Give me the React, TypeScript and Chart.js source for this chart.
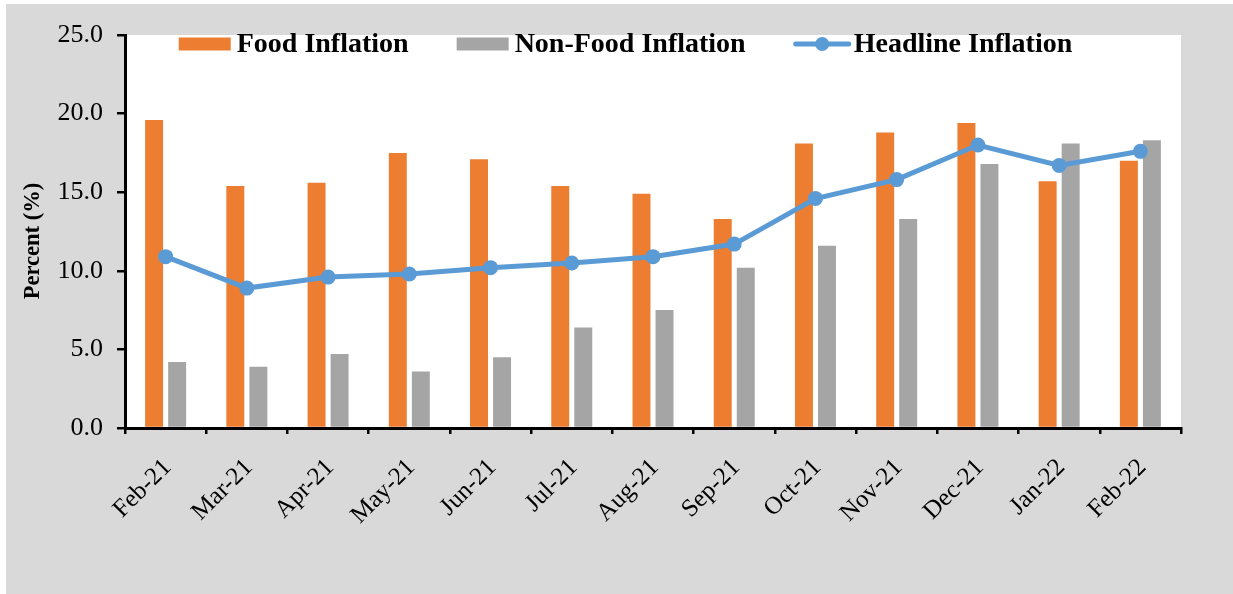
import React, { useEffect, useRef } from "react";
import { Chart, registerables } from "chart.js";

Chart.register(...registerables);

const categories = ["Feb-21", "Mar-21", "Apr-21", "May-21", "Jun-21", "Jul-21", "Aug-21", "Sep-21", "Oct-21", "Nov-21", "Dec-21", "Jan-22", "Feb-22"];
const foodInflation = [19.6, 15.4, 15.6, 17.5, 17.1, 15.4, 14.9, 13.3, 18.1, 18.8, 19.4, 15.7, 17.0];
const nonFoodInflation = [4.2, 3.9, 4.7, 3.6, 4.5, 6.4, 7.5, 10.2, 11.6, 13.3, 16.8, 18.1, 18.3];
const headlineInflation = [10.9, 8.9, 9.6, 9.8, 10.2, 10.5, 10.9, 11.7, 14.6, 15.8, 18.0, 16.7, 17.6];
const seriesNames = ["Food Inflation", "Non-Food Inflation", "Headline Inflation"];
const yAxisTitle = "Percent (%)";

const ORANGE = "#ED7D31";
const GRAY = "#A5A5A5";
const BLUE = "#5B9BD5";
const SERIF = "'Liberation Serif', 'Times New Roman', serif";

const bgPlugin = {
  id: "bgPlugin",
  beforeDraw(chart: any) {
    const { ctx, chartArea } = chart;
    ctx.save();
    ctx.fillStyle = "#D9D9D9";
    ctx.fillRect(0, 0, chart.width, chart.height);
    ctx.fillStyle = "#FFFFFF";
    ctx.fillRect(chartArea.left, chartArea.top, chartArea.right - chartArea.left, chartArea.bottom - chartArea.top);
    ctx.restore();
  },
  afterDraw(chart: any) {
    const { ctx } = chart;
    ctx.save();
    ctx.translate(27, 237);
    ctx.rotate(-Math.PI / 2);
    ctx.font = `bold 22.5px ${SERIF}`;
    ctx.fillStyle = "#000";
    ctx.textAlign = "center";
    ctx.textBaseline = "middle";
    ctx.fillText(yAxisTitle, 0, 0);
    ctx.restore();
  },
};

const legendPlugin = {
  id: "customLegend",
  afterDraw(chart: any) {
    const { ctx } = chart;
    ctx.save();
    ctx.font = `bold 28px ${SERIF}`;
    ctx.textBaseline = "middle";
    ctx.textAlign = "left";
    const cy = 40;
    const boxW = 52;
    const boxH = 13;
    const lineW = 57;
    const gapText = 6;
    const gapItem = 48;
    const w0 = ctx.measureText(seriesNames[0]).width;
    const w1 = ctx.measureText(seriesNames[1]).width;
    const w2 = ctx.measureText(seriesNames[2]).width;
    const total = boxW + gapText + w0 + gapItem + boxW + gapText + w1 + gapItem + lineW + 3 + w2;
    let x = chart.width / 2 + 6 - total / 2;
    ctx.fillStyle = ORANGE;
    ctx.fillRect(x, cy - boxH / 2, boxW, boxH);
    x += boxW + gapText;
    ctx.fillStyle = "#000";
    ctx.fillText(seriesNames[0], x, cy + 1);
    x += w0 + gapItem;
    ctx.fillStyle = GRAY;
    ctx.fillRect(x, cy - boxH / 2, boxW, boxH);
    x += boxW + gapText;
    ctx.fillStyle = "#000";
    ctx.fillText(seriesNames[1], x, cy + 1);
    x += w1 + gapItem;
    ctx.strokeStyle = BLUE;
    ctx.lineWidth = 5;
    ctx.lineCap = "round";
    ctx.beginPath();
    ctx.moveTo(x + 2, cy);
    ctx.lineTo(x + lineW - 2, cy);
    ctx.stroke();
    ctx.fillStyle = BLUE;
    ctx.beginPath();
    ctx.arc(x + lineW / 2, cy, 7, 0, Math.PI * 2);
    ctx.fill();
    x += lineW + 3;
    ctx.fillStyle = "#000";
    ctx.fillText(seriesNames[2], x, cy + 1);
    ctx.restore();
  },
};

export default function App() {
  const canvasRef = useRef<HTMLCanvasElement | null>(null);

  useEffect(() => {
    const canvas = canvasRef.current;
    if (!canvas) return;
    const chart = new Chart(canvas, {
      type: "bar",
      data: {
        labels: categories,
        datasets: [
          {
            type: "line",
            label: seriesNames[2],
            data: headlineInflation,
            borderColor: BLUE,
            backgroundColor: BLUE,
            borderWidth: 5,
            pointRadius: 7.5,
            pointBackgroundColor: BLUE,
            pointBorderColor: BLUE,
            pointBorderWidth: 0,
            tension: 0,
            order: 0,
          } as any,
          {
            type: "bar",
            label: seriesNames[0],
            data: foodInflation,
            backgroundColor: ORANGE,
            categoryPercentage: 0.567,
            barPercentage: 0.78,
            order: 1,
          },
          {
            type: "bar",
            label: seriesNames[1],
            data: nonFoodInflation,
            backgroundColor: GRAY,
            categoryPercentage: 0.567,
            barPercentage: 0.78,
            order: 1,
          },
        ],
      },
      options: {
        animation: false,
        responsive: false,
        maintainAspectRatio: false,
        layout: { padding: { left: 0, right: 52, top: 31, bottom: 0 } },
        plugins: {
          legend: { display: false },
          tooltip: { enabled: false },
          title: { display: false },
        },
        scales: {
          x: {
            offset: true,
            grid: {
              offset: true,
              drawOnChartArea: false,
              drawTicks: true,
              tickLength: 6,
              tickColor: "#000",
              lineWidth: 2.5,
            },
            border: { display: true, color: "#000", width: 3 },
            ticks: {
              color: "#000",
              font: { family: SERIF, size: 25 },
              minRotation: 45,
              maxRotation: 45,
              autoSkip: false,
              padding: 19,
              labelOffset: 2,
            },
            afterFit(scale: any) {
              scale.height = 166;
            },
          },
          y: {
            min: 0,
            max: 25,
            grid: {
              drawOnChartArea: false,
              drawTicks: true,
              tickLength: 8,
              tickColor: "#000",
              lineWidth: 2.5,
            },
            border: { display: true, color: "#000", width: 3 },
            ticks: {
              stepSize: 5,
              color: "#000",
              font: { family: SERIF, size: 26 },
              padding: 14,
              callback: (v: any) => Number(v).toFixed(1),
            },
            title: { display: false },
            afterFit(scale: any) {
              scale.width = 119;
            },
          },
        },
      },
      plugins: [bgPlugin, legendPlugin],
    });
    return () => chart.destroy();
  }, []);

  return (
    <div style={{ position: "fixed", left: 0, top: 0, width: 1233, height: 594, background: "#fff" }}>
      <div style={{ position: "absolute", left: 6, top: 4, width: 1227, height: 590 }}>
        <canvas ref={canvasRef} width={1227} height={590} style={{ width: 1227, height: 590, display: "block" }} />
      </div>
    </div>
  );
}
